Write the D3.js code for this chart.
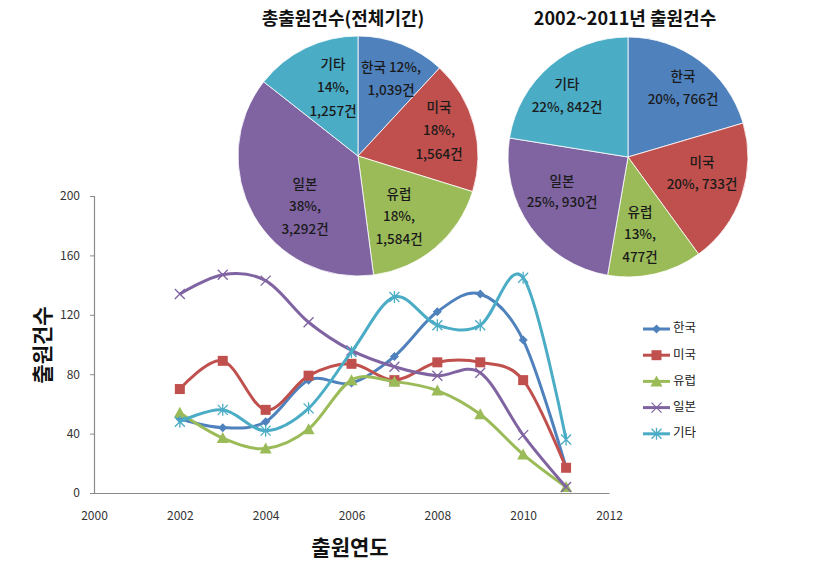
<!DOCTYPE html>
<html><head><meta charset="utf-8">
<script src="https://cdn.jsdelivr.net/npm/d3@7"></script>
<style>body{margin:0;background:#fff}svg{display:block}</style>
</head><body><svg id="c" width="833" height="584"></svg>
<script>
const years = [2002,2003,2004,2005,2006,2007,2008,2009,2010,2011];
const seriesNames = ["한국","미국","유럽","일본","기타"];
const korea  = [50,44,48,76,74,92,122,134,103,17];
const usa    = [70,89,56,79,87,76,88,88,76,17];
const europe = [54,37,30,43,76,75,69,53,26,4];
const japan  = [134,147,143,115,96,85,79,81,39,4];
const others = [48,56,42,57,95,132,113,113,145,36];
const yTicks = [0,40,80,120,160,200];
const xTicks = [2000,2002,2004,2006,2008,2010,2012];
const colors = ["#4F81BD","#C0504D","#9BBB59","#8064A2","#4BACC6"];
const markers = ["diamond","square","triangle","x","star"];

const pie1Title = "총출원건수(전체기간)";
const pie1Values = [1039,1564,1584,3292,1257];
const pie1Labels = [["한국 12%,","1,039건"],["미국","18%,","1,564건"],["유럽","18%,","1,584건"],["일본","38%,","3,292건"],["기타","14%,","1,257건"]];
const pie2Title = "2002~2011년 출원건수";
const pie2Values = [766,733,477,930,842];
const pie2Labels = [["한국","20%, 766건"],["미국","20%, 733건"],["유럽","13%,","477건"],["일본","25%, 930건"],["기타","22%, 842건"]];

const svg = d3.select("#c");
const FONT = "'Noto Sans CJK KR','Noto Sans',sans-serif";

// ---- line chart ----
const x = d3.scaleLinear().domain([2000,2012]).range([94,609]);
const y = d3.scaleLinear().domain([0,200]).range([493,196]);
const g = svg.append("g");
const yAxis = g.append("g").attr("transform","translate(94,0)")
  .call(d3.axisLeft(y).tickValues(yTicks).tickSize(4).tickPadding(10).tickFormat(d3.format("d")));
const xAxis = g.append("g").attr("transform","translate(0,493)")
  .call(d3.axisBottom(x).tickValues(xTicks).tickSize(0).tickPadding(18).tickFormat(d3.format("d")));
[yAxis,xAxis].forEach(a=>{
  a.select(".domain").attr("stroke","#8a8a8a").attr("stroke-width",1.2);
  a.selectAll(".tick line").attr("stroke","#8a8a8a");
  a.selectAll("text").attr("fill","#333").style("font-family",FONT).style("font-size","12px");
});
g.append("text").attr("transform","translate(44,345) rotate(-90)").attr("text-anchor","middle")
  .attr("dominant-baseline","middle").style("font-family",FONT).style("font-size","21px").style("font-weight","bold")
  .attr("fill","#111").text("출원건수");
g.append("text").attr("x",350).attr("y",549).attr("text-anchor","middle").attr("dominant-baseline","middle")
  .style("font-family",FONT).style("font-size","21px").style("font-weight","bold").attr("fill","#111").text("출원연도");

const allSeries = [korea,usa,europe,japan,others];
const line = d3.line().x((d,i)=>x(years[i])).y(d=>y(d)).curve(d3.curveCatmullRom.alpha(0));

function drawMarker(sel, type, color, cx, cy){
  const s = 4.5;
  if(type==="diamond") sel.append("path").attr("d",`M${cx},${cy-s}L${cx+s},${cy}L${cx},${cy+s}L${cx-s},${cy}Z`).attr("fill",color);
  else if(type==="square") sel.append("rect").attr("x",cx-5).attr("y",cy-5).attr("width",10).attr("height",10).attr("fill",color);
  else if(type==="triangle") sel.append("path").attr("d",`M${cx},${cy-6}L${cx+6},${cy+5}L${cx-6},${cy+5}Z`).attr("fill",color);
  else if(type==="x") sel.append("path").attr("d",`M${cx-5},${cy-5}L${cx+5},${cy+5}M${cx+5},${cy-5}L${cx-5},${cy+5}`).attr("stroke",color).attr("stroke-width",1.3);
  else if(type==="star") sel.append("path").attr("d",`M${cx-5},${cy-5}L${cx+5},${cy+5}M${cx+5},${cy-5}L${cx-5},${cy+5}M${cx},${cy-6}L${cx},${cy+6}`).attr("stroke",color).attr("stroke-width",1.3);
}

allSeries.forEach((data,k)=>{
  g.append("path").attr("d",line(data)).attr("fill","none").attr("stroke",colors[k]).attr("stroke-width",3);
  const mg = g.append("g");
  data.forEach((d,i)=>drawMarker(mg,markers[k],colors[k],x(years[i]),y(d)));
});

// legend
const lg = svg.append("g");
seriesNames.forEach((n,k)=>{
  const yy = 329 + k*26.2;
  lg.append("line").attr("x1",643).attr("x2",670).attr("y1",yy).attr("y2",yy).attr("stroke",colors[k]).attr("stroke-width",3);
  drawMarker(lg,markers[k],colors[k],656.5,yy);
  lg.append("text").attr("x",673).attr("y",yy).attr("dominant-baseline","middle")
    .style("font-family",FONT).style("font-size","12.5px").attr("fill","#222").text(n);
});

// ---- pies ----
function drawPie(cx, cy, r, values, labels, labelPos, title, titleX){
  const pg = svg.append("g").attr("transform",`translate(${cx},${cy})`);
  const arcs = d3.pie().sort(null)(values);
  const arc = d3.arc().innerRadius(0).outerRadius(r);
  pg.selectAll("path").data(arcs).join("path").attr("d",arc)
    .attr("fill",(d,i)=>colors[i]).attr("stroke","#fff").attr("stroke-width",0.8);
  labels.forEach((lines,i)=>{
    const [lx,ly,dy] = labelPos[i];
    lines.forEach((t,j)=>{
      svg.append("text").attr("x",lx).attr("y",ly+j*dy).attr("text-anchor","middle").attr("dominant-baseline","middle")
        .style("font-family",FONT).style("font-size","13.5px").style("font-weight","500").attr("fill","#1a1a1a").text(t);
    });
  });
  svg.append("text").attr("x",titleX).attr("y",20).attr("text-anchor","middle").attr("dominant-baseline","middle")
    .style("font-family",FONT).style("font-size","18px").style("font-weight","bold").attr("fill","#111").text(title);
}
drawPie(358,156,120,pie1Values,pie1Labels,
  [[391,68,23],[439,108,23.5],[399,195,22.5],[305,185,22.5],[333,65,23.5]],pie1Title,343);
drawPie(628,157,120,pie2Values,pie2Labels,
  [[683,77,23],[702,163,22],[640,213,22.5],[562,182,21],[567,85,23]],pie2Title,625);
</script></body></html>
